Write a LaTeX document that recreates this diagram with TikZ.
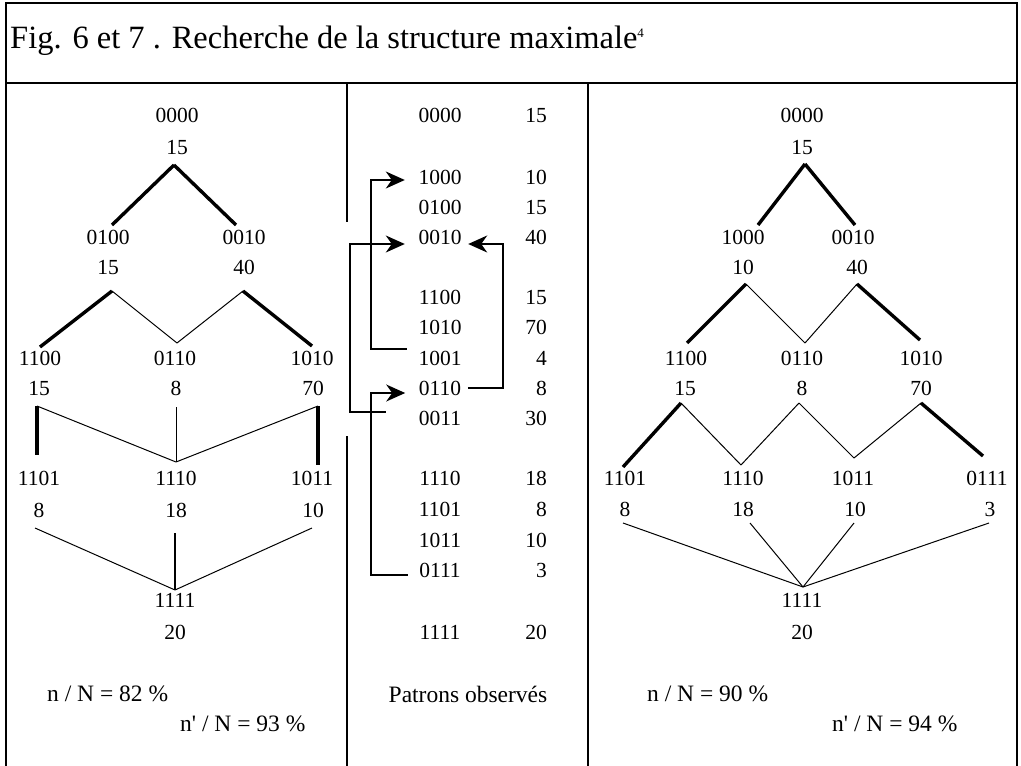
\documentclass[tikz,border=0pt]{standalone}
\usepackage{fontspec}
\setmainfont{Liberation Serif}
\usetikzlibrary{arrows.meta}
\begin{document}
\begin{tikzpicture}[x=1pt,y=-1pt,
  lbl/.style={inner sep=0pt, font=\fontsize{21.5}{21.5}\selectfont, text height=14pt, text depth=0pt},
  note/.style={inner sep=0pt, font=\fontsize{23.5}{23.5}\selectfont},
  thk/.style={line width=3.4pt},
  thn/.style={line width=1pt},
  med/.style={line width=2pt},
  frm/.style={line width=2pt},
  arr/.style={line width=1.6pt, -{Stealth[length=19pt,width=17pt,inset=6pt]}}]
\useasboundingbox (0,0) rectangle (1021,766);

% frame
\draw[frm] (6,766) -- (6,3) -- (1017,3) -- (1017,766);
\draw[frm] (6,83) -- (1017,83);
\draw[frm] (347,83) -- (347,222);
\draw[frm] (347,436) -- (347,766);
\draw[frm] (588,83) -- (588,766);

% title
\node[anchor=base west, inner sep=0pt, font=\fontsize{32.5}{32.5}\selectfont] (title) at (10,48)
  {Fig. 6 et 7 . Recherche de la structure maximale\raisebox{11pt}{\fontsize{13}{13}\selectfont 4}};

% ---------- left tree ----------
\node[lbl] (la)    at (177,115) {0000}; \node[lbl] (la-n)  at (177,147) {15};
\node[lbl] (lb1)   at (108,237) {0100}; \node[lbl] (lb1-n) at (108,267) {15};
\node[lbl] (lb2)   at (244,237) {0010}; \node[lbl] (lb2-n) at (244,267) {40};
\node[lbl] (lc1)   at (40,358)  {1100}; \node[lbl] (lc1-n) at (39,388)  {15};
\node[lbl] (lc2)   at (175,358) {0110}; \node[lbl] (lc2-n) at (176,388) {8};
\node[lbl] (lc3)   at (312,358) {1010}; \node[lbl] (lc3-n) at (313,388) {70};
\node[lbl] (ld1)   at (39,478)  {1101}; \node[lbl] (ld1-n) at (39,510)  {8};
\node[lbl] (ld2)   at (176,478) {1110}; \node[lbl] (ld2-n) at (176,510) {18};
\node[lbl] (ld3)   at (312,478) {1011}; \node[lbl] (ld3-n) at (313,510) {10};
\node[lbl] (le)    at (175,600) {1111}; \node[lbl] (le-n)  at (175,632) {20};

\coordinate (L0a)  at (174,165);
\coordinate (L1l)  at (112,225);  \coordinate (L1r)  at (236,225);
\coordinate (L1la) at (112,291);  \coordinate (L1ra) at (243,291);
\coordinate (L2l)  at (40,347);   \coordinate (L2m)  at (177,343); \coordinate (L2r) at (312,346);
\coordinate (L2la) at (37,406);   \coordinate (L2ma) at (176,407); \coordinate (L2ra) at (318,406);
\coordinate (L3l)  at (37,455);   \coordinate (L3m)  at (176,462); \coordinate (L3r) at (318,465);
\coordinate (L3la) at (35,528);   \coordinate (L3ma) at (175,533); \coordinate (L3ra) at (312,528);
\coordinate (L4)   at (175,590);

\draw[thk] (L0a) -- (L1l);  \draw[thk] (L0a) -- (L1r);
\draw[thk] (L1la) -- (L2l); \draw[thn] (L1la) -- (L2m);
\draw[thn] (L1ra) -- (L2m); \draw[thk] (L1ra) -- (L2r);
\draw[thk] (L2la) -- (L3l); \draw[thn] (L2la) -- (L3m);
\draw[thn] (L2ma) -- (L3m);
\draw[thn] (L2ra) -- (L3m); \draw[thk] (L2ra) -- (L3r);
\draw[thn] (L3la) -- (L4);  \draw[med] (L3ma) -- (L4); \draw[thn] (L3ra) -- (L4);

% ---------- middle column ----------
\foreach \c/\n/\y in {0000/15/115, 1000/10/177, 0100/15/207, 0010/40/237,
  1100/15/297, 1010/70/327, 1001/4/358, 0110/8/388, 0011/30/418,
  1110/18/478, 1101/8/509, 1011/10/540, 0111/3/570, 1111/20/632}{
  \node[lbl] (m\c) at (440,\y) {\c};
  \node[lbl, anchor=east] (mc\c) at (547,\y) {\n};
}

\draw[arr] ([xshift=-33pt,yshift=6pt]m0011.west) -| ([xshift=-68.5pt,yshift=-7pt]m0010.west)
  -- ([xshift=-13.5pt,yshift=-7pt]m0010.west);
\draw[arr] ([xshift=-11.5pt,yshift=9pt]m1001.west) -| ([xshift=-47.5pt,yshift=-3pt]m1000.west)
  -- ([xshift=-13.5pt,yshift=-3pt]m1000.west);
\draw[arr] ([xshift=6.5pt]m0110.east) -| ([xshift=41.5pt,yshift=-7pt]m0010.east)
  -- ([xshift=6.5pt,yshift=-7pt]m0010.east);
\draw[arr] ([xshift=-11.5pt,yshift=-5pt]m0111.west) -| ([xshift=-47.5pt,yshift=-5pt]m0110.west)
  -- ([xshift=-13.5pt,yshift=-5pt]m0110.west);

% ---------- right tree ----------
\node[lbl] (ra)  at (802,115) {0000}; \node[lbl] (ra-n)  at (802,147) {15};
\node[lbl] (rb1) at (743,237) {1000}; \node[lbl] (rb1-n) at (743,267) {10};
\node[lbl] (rb2) at (853,237) {0010}; \node[lbl] (rb2-n) at (857,267) {40};
\node[lbl] (rc1) at (686,358) {1100}; \node[lbl] (rc1-n) at (685,388) {15};
\node[lbl] (rc2) at (802,358) {0110}; \node[lbl] (rc2-n) at (802,388) {8};
\node[lbl] (rc3) at (921,358) {1010}; \node[lbl] (rc3-n) at (921,388) {70};
\node[lbl] (rd1) at (625,478) {1101}; \node[lbl] (rd1-n) at (625,509) {8};
\node[lbl] (rd2) at (743,478) {1110}; \node[lbl] (rd2-n) at (743,509) {18};
\node[lbl] (rd3) at (853,478) {1011}; \node[lbl] (rd3-n) at (855,509) {10};
\node[lbl] (rd4) at (987,478) {0111}; \node[lbl] (rd4-n) at (990,509) {3};
\node[lbl] (re)  at (802,600) {1111}; \node[lbl] (re-n)  at (802,632) {20};

\coordinate (R0a)  at (805,164);
\coordinate (R1l)  at (758,225);  \coordinate (R1r)  at (855,225);
\coordinate (R1la) at (746,284);  \coordinate (R1ra) at (857,284);
\coordinate (R2l)  at (687,343);  \coordinate (R2m)  at (805,343); \coordinate (R2r) at (920,340);
\coordinate (R2la) at (681,403);  \coordinate (R2ma) at (799,403); \coordinate (R2ra) at (921,403);
\coordinate (R3l)  at (623,467);  \coordinate (R3ml) at (741,465);
\coordinate (R3mr) at (854,458);  \coordinate (R3r)  at (983,456);
\coordinate (R3a1) at (623,523);  \coordinate (R3a2) at (750,523);
\coordinate (R3a3) at (854,523);  \coordinate (R3a4) at (989,523);
\coordinate (R4)   at (803,587);

\draw[thk] (R0a) -- (R1l);  \draw[thk] (R0a) -- (R1r);
\draw[thk] (R1la) -- (R2l); \draw[thn] (R1la) -- (R2m);
\draw[thn] (R1ra) -- (R2m); \draw[thk] (R1ra) -- (R2r);
\draw[thk] (R2la) -- (R3l); \draw[thn] (R2la) -- (R3ml);
\draw[thn] (R2ma) -- (R3ml); \draw[thn] (R2ma) -- (R3mr);
\draw[thn] (R2ra) -- (R3mr); \draw[thk] (R2ra) -- (R3r);
\draw[thn] (R3a1) -- (R4); \draw[thn] (R3a2) -- (R4);
\draw[thn] (R3a3) -- (R4); \draw[thn] (R3a4) -- (R4);

% ---------- bottom notes ----------
\node[note, anchor=west] (p1) at (47,694)  {n / N = 82 \%};
\node[note, anchor=west] (p2) at (180,724) {n\textquotesingle{} / N = 93 \%};
\node[note] (obs) at (468,694) {Patrons observés};
\node[note, anchor=west] (p3) at (647,694) {n / N = 90 \%};
\node[note, anchor=west] (p4) at (832,724) {n\textquotesingle{} / N = 94 \%};
\end{tikzpicture}
\end{document}
